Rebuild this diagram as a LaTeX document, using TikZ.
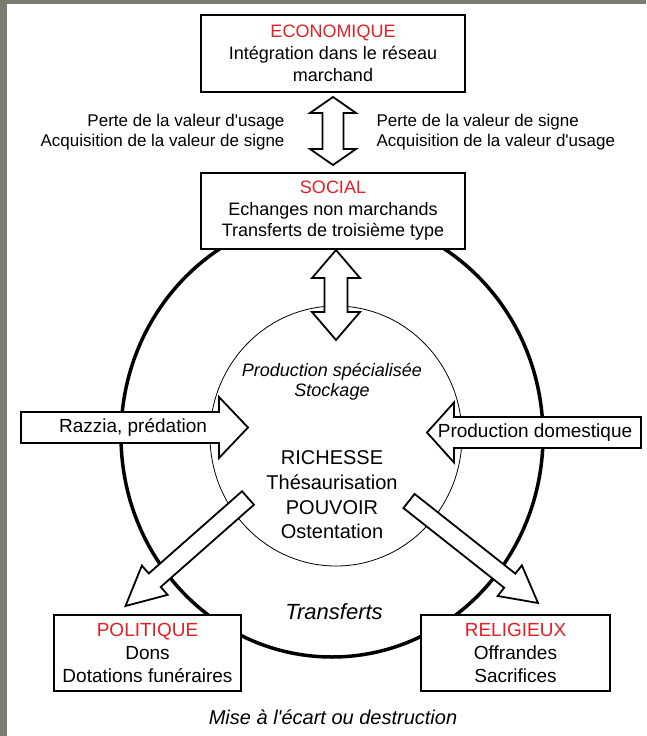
\documentclass[tikz,border=0pt]{standalone}
\usepackage{fontspec}
\setmainfont{Liberation Sans}
\usetikzlibrary{calc,positioning}

\definecolor{rouge}{RGB}{226,32,38}
\definecolor{cadre}{RGB}{122,124,112}

% fleche pleine : depart, pointe, demi-corps, demi-tete, longueur de tete
\newcommand{\flechePleine}[5]{%
  \coordinate (bt) at ($(#2)!#5!(#1)$);
  \draw[fleche] ($(#1)!#3!90:(#2)$) -- ($(bt)!#3!-90:(#1)$) -- ($(bt)!#4!-90:(#1)$) -- (#2)
    -- ($(bt)!#4!90:(#1)$) -- ($(bt)!#3!90:(#1)$) -- ($(#1)!#3!-90:(#2)$) -- cycle;}
% double fleche : pointe, pointe, demi-corps, demi-tete, longueur de tete
\newcommand{\flecheDouble}[5]{%
  \coordinate (ta) at ($(#1)!#5!(#2)$);
  \coordinate (tb) at ($(#2)!#5!(#1)$);
  \draw[fleche] (#1) -- ($(ta)!#4!90:(#2)$) -- ($(ta)!#3!90:(#2)$) -- ($(tb)!#3!-90:(#1)$)
    -- ($(tb)!#4!-90:(#1)$) -- (#2) -- ($(tb)!#4!90:(#1)$) -- ($(tb)!#3!90:(#1)$)
    -- ($(ta)!#3!-90:(#2)$) -- ($(ta)!#4!-90:(#2)$) -- cycle;}
\newcommand{\apos}{\textquotesingle}

\begin{document}
\begin{tikzpicture}[x=1pt, y=-1pt, line join=miter,
  boite/.style={draw, line width=2pt, fill=white, align=center, inner sep=0pt},
  fleche/.style={draw, line width=1.8pt, fill=white},
  etiq/.style={font=\fontsize{19}{23}\selectfont}]
% cadre gris
\useasboundingbox (0,0) rectangle (646,736);
\fill[cadre] (0,0) rectangle (7,736);
\fill[cadre] (0,0) rectangle (646,4);
% les deux ellipses
\coordinate (O) at (332,436);
\coordinate (I) at (336,436);
\draw[line width=3.5pt] (O) ellipse[x radius=211, y radius=221];
\draw[line width=0.8pt] (I) ellipse[x radius=126, y radius=130];
% les boites
\node[boite, minimum width=264pt, minimum height=77pt, font=\fontsize{18}{22}\selectfont] (eco) at (333,53.5)
  {\textcolor{rouge}{ECONOMIQUE}\\Intégration dans le réseau\\marchand};
\node[boite, minimum width=264pt, minimum height=76pt, font=\fontsize{18}{21.5}\selectfont] (soc) at (333,211)
  {\textcolor{rouge}{SOCIAL}\\Echanges non marchands\\Transferts de troisième type};
\node[boite, minimum width=187pt, minimum height=76pt, font=\fontsize{19}{23}\selectfont] (pol) at (147.5,653)
  {\textcolor{rouge}{POLITIQUE}\\Dons\\Dotations funéraires};
\node[boite, minimum width=189pt, minimum height=76pt, font=\fontsize{19}{23}\selectfont] (rel) at (515.5,653)
  {\textcolor{rouge}{RELIGIEUX}\\Offrandes\\Sacrifices};
% doubles fleches
\coordinate (e1) at ($(eco.south)+(0,4)$);
\coordinate (s1) at ($(soc.north)+(0,-7)$);
\flecheDouble{e1}{s1}{10.5pt}{23pt}{16pt}
\coordinate (s2) at ($(soc.south)+(3,0)$);
\coordinate (p2) at ($(I)+(0,-96)$);
\flecheDouble{s2}{p2}{11.5pt}{24pt}{28pt}
% fleches laterales
\coordinate (razA) at (21,427.5);
\coordinate (razB) at (248,427.5);
\flechePleine{razA}{razB}{15.5pt}{30.5pt}{29pt}
\node[etiq] (raz) at (133,427.5) {Razzia, prédation};
\coordinate (domA) at (641,432.5);
\coordinate (domB) at (427,432.5);
\flechePleine{domA}{domB}{15.5pt}{30pt}{27pt}
\node[etiq] (dom) at (535,432.5) {Production domestique};
% fleches obliques
\coordinate (polA) at (248,498);
\coordinate (polB) at ($(pol.north)+(-22,-8)$);
\flechePleine{polA}{polB}{9pt}{19.5pt}{39pt}
\coordinate (relA) at (409,501);
\coordinate (relB) at ($(rel.north)+(22.5,-11)$);
\flechePleine{relA}{relB}{9pt}{19.5pt}{36pt}
% textes
\node[font=\fontsize{17}{20}\selectfont, align=right, anchor=east] (perteG) at (288,132)
  {Perte de la valeur d\apos usage\\Acquisition de la valeur de signe};
\node[font=\fontsize{17}{20}\selectfont, align=left, anchor=west] (perteD) at (373,132)
  {Perte de la valeur de signe\\Acquisition de la valeur d\apos usage};
\node[font=\fontsize{18}{20}\selectfont\itshape, align=center] (prod) at (332,382)
  {Production spécialisée\\Stockage};
\node[font=\fontsize{20}{24.7}\selectfont, align=center] (rich) at (332,495)
  {RICHESSE\\Thésaurisation\\POUVOIR\\Ostentation};
\node[font=\fontsize{22}{26}\selectfont\itshape] (trans) at (334,612) {Transferts};
\node[font=\fontsize{20}{24}\selectfont\itshape] (mise) at (333,717) {Mise à l\apos écart ou destruction};
\end{tikzpicture}
\end{document}
